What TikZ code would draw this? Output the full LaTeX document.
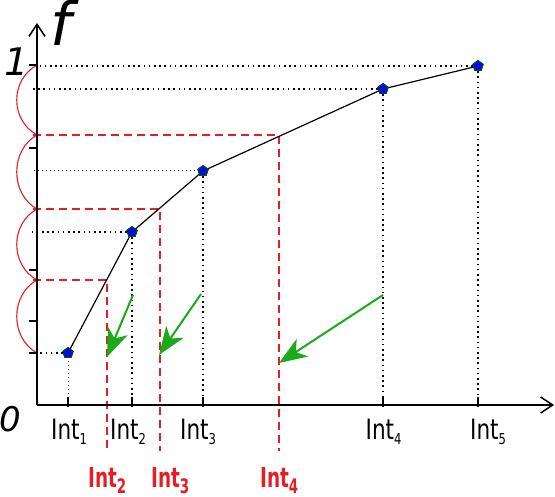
\documentclass[tikz,border=0pt]{standalone}
\usepackage{fontspec}
\setmainfont{DejaVu Sans}
\usetikzlibrary{arrows.meta,shapes.geometric}
\definecolor{myred}{RGB}{228,30,36}
\definecolor{mygreen}{RGB}{26,170,26}
\definecolor{myblue}{RGB}{10,10,225}
\newcommand{\intlbl}[1]{\scalebox{0.77}[1]{\fontsize{28}{28}\selectfont Int\raisebox{-5pt}{\fontsize{15}{15}\selectfont #1}}}
\newcommand{\intred}[1]{\scalebox{0.67}[1]{\fontsize{27.5}{28}\selectfont\bfseries Int\raisebox{-6pt}{\fontsize{20}{20}\selectfont #1}}}

\begin{document}
\begin{tikzpicture}[x=1pt,y=-1pt]
\tikzstyle{pt}=[regular polygon,regular polygon sides=5,fill=myblue,draw=green!35!black,line width=0.8pt,inner sep=0pt,minimum size=11pt]
\tikzstyle{guide}=[dash pattern=on 1.6pt off 3.6pt,line width=1.3pt]
\tikzstyle{fineguide}=[dash pattern=on 1pt off 3pt,line width=1pt,black!75]
\tikzstyle{redline}=[draw=myred,line width=1.6pt,dash pattern=on 8pt off 5pt]
\tikzstyle{hop}=[draw=myred,line width=1.1pt]
\tikzstyle{nudge}=[draw=mygreen,line width=2pt,-{Stealth[length=28pt,width=21pt,inset=8pt]}]
\tikzstyle{axisline}=[line width=1.5pt,-{Straight Barb[length=12pt,width=16pt]}]
\tikzstyle{axtick}=[line width=1.5pt]
\tikzstyle{lbl}=[anchor=base west,inner sep=0pt]
\useasboundingbox (0,0) rectangle (555,497);
\coordinate (O) at (37,405);
\coordinate (ytop) at (37,23);
\coordinate (xend) at (554,405);
\coordinate (yl) at (31,0);
\coordinate (rl) at (33,0);
\coordinate (rb) at (0,451);
\node[pt] (p1) at (68,353) {};
\node[pt] (p2) at (132,232) {};
\node[pt] (p3) at (203,171) {};
\node[pt] (p4) at (383,89) {};
\node[pt] (p5) at (478,66) {};
\coordinate (c2) at (107,280);
\coordinate (c3) at (160,209);
\coordinate (c4) at (279,135);

\draw[guide] (p5.center) -- (O |- p5.center);
\draw[guide] (p4.center) -- (yl |- p4.center);
\draw[fineguide] (p3.center) -- (yl |- p3.center);
\draw[guide] (p2.center) -- (yl |- p2.center);
\draw[guide] (p1.center) -- (O |- p1.center);
\draw[fineguide] (p1.center) -- (p1 |- O);
\foreach \n in {p2,p3,p4,p5}
  \draw[guide] (\n.center) -- (\n |- O);

\foreach \c in {c2,c3,c4}
  \draw[redline] (rl |- \c) -- (\c) -- (\c |- rb);
\foreach \a/\b in {65/135,135/209,209/280,280/353}
  \draw[hop] (37,\a) .. controls +(-27,15) and +(-27,-15) .. (37,\b);

\draw[axisline] (O) -- (ytop);
\draw[axisline] (O) -- (xend);
\foreach \y in {65,148,270,321,353}
  \draw[axtick] (29,\y) -- (37,\y);
\foreach \n in {p1,p2,p3,p4,p5}
  \draw[axtick] ([yshift=-2pt]\n |- O) -- ([yshift=8pt]\n |- O);

\draw[line width=1.2pt] (p1.center) -- (p2.center) -- (p3.center) -- (p4.center) -- (p5.center);
\foreach \n in {p1,p2,p3,p4,p5}
  \node[pt] at (\n) {};

\coordinate (g1s) at (133,295);
\coordinate (g1e) at (107,357);
\coordinate (g2s) at (201,294);
\coordinate (g2e) at (159,355);
\coordinate (g3s) at (383,295);
\coordinate (g3e) at (279,363);
\draw[nudge] (g1s) -- (g1e);
\draw[nudge] (g2s) -- (g2e);
\draw[nudge] (g3s) -- (g3e);

\node (f) [anchor=base] at (61,46) {\fontsize{60}{60}\selectfont\itshape f};
\node (one) at (17,62) {\fontsize{38}{38}\selectfont\itshape 1};
\node (zero) at (10,419) {\fontsize{34}{34}\selectfont\itshape 0};

\node[lbl] (i1) at (51,439) {\intlbl{1}};
\node[lbl] (i2) at (110,439) {\intlbl{2}};
\node[lbl] (i3) at (180,439) {\intlbl{3}};
\node[lbl] (i4) at (365.5,439) {\intlbl{4}};
\node[lbl] (i5) at (470,439) {\intlbl{5}};
\node[lbl,text=myred] (r2) at (88,487) {\intred{2}};
\node[lbl,text=myred] (r3) at (151,487) {\intred{3}};
\node[lbl,text=myred] (r4) at (260,487) {\intred{4}};
\end{tikzpicture}
\end{document}
